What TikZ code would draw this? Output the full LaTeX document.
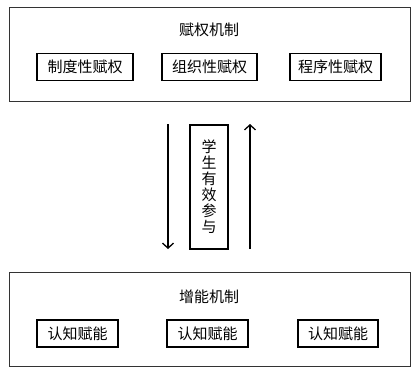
\documentclass[tikz,border=0pt]{standalone}
\usepackage{fontspec}
\newfontfamily\cjk{Noto Sans CJK SC}
\usetikzlibrary{arrows.meta}
\begin{document}
\begin{tikzpicture}[x=1pt,y=-1pt,
  outer/.style={draw=black!80,line width=1pt},
  inner/.style={draw=black,line width=1.8pt,minimum height=27pt,inner sep=0pt,font=\cjk\fontsize{15}{15}\selectfont},
  ttl/.style={font=\cjk\fontsize{15}{15}\selectfont},
  flow/.style={line width=1.3pt,-{Straight Barb[length=5pt,width=11pt,line width=1.3pt]}}]
\useasboundingbox (0,0) rectangle (417,368);
\fill[white] (0,0) rectangle (417,368);
% top
\node[outer,minimum width=401pt,minimum height=94pt,inner sep=0pt] (top) at (209.5,54) {};
\node[ttl] (toptitle) at (209,30) {赋权机制};
\node[inner,minimum width=96pt] (t1) at (85,67) {制度性赋权};
\node[inner,minimum width=95pt] (t2) at (209.5,67) {组织性赋权};
\node[inner,minimum width=91pt] (t3) at (335.5,67) {程序性赋权};
% middle
\node[draw=black,line width=1.5pt,minimum width=38pt,minimum height=124pt,inner sep=0pt,align=center,font=\cjk\fontsize{15}{16}\selectfont] (mid) at (209,187) {学\\生\\有\\效\\参\\与};
\coordinate (la) at (168,124);
\coordinate (lb) at (168,249);
\coordinate (ra) at (250,249);
\coordinate (rb) at (250,124);
\draw[flow] (la) -- (lb);
\draw[flow] (ra) -- (rb);
% bottom
\node[outer,minimum width=401pt,minimum height=94pt,inner sep=0pt] (bot) at (209.5,319) {};
\node[ttl] (bottitle) at (209,297) {增能机制};
\node[inner,minimum width=81pt] (b1) at (77.5,333.5) {认知赋能};
\node[inner,minimum width=81pt] (b2) at (207.5,333.5) {认知赋能};
\node[inner,minimum width=80pt] (b3) at (338,333.5) {认知赋能};
\end{tikzpicture}
\end{document}
